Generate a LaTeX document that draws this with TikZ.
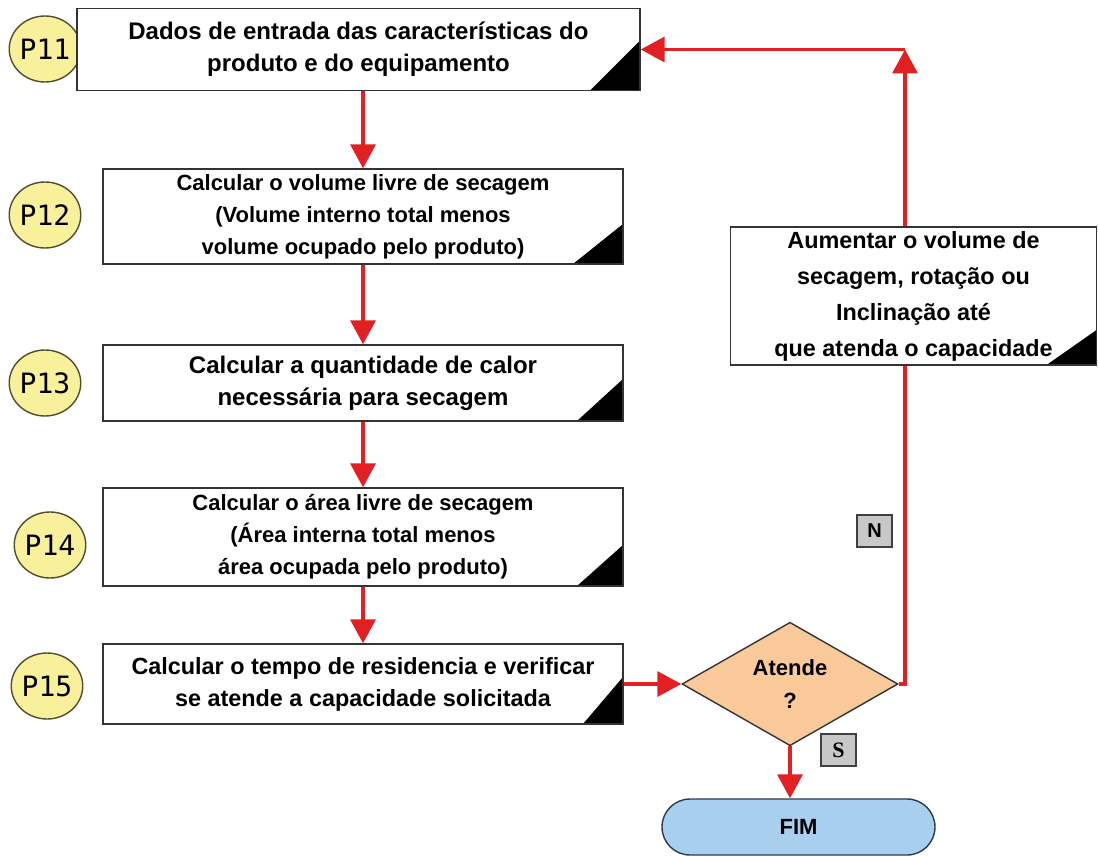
\documentclass[tikz,border=0pt]{standalone}
\usepackage{fontspec}
\setmainfont{Liberation Sans}
\newfontfamily\monofnt{DejaVu Sans Mono}
\newfontfamily\seriffnt{Liberation Serif}
\usetikzlibrary{arrows.meta,shapes.geometric}
\definecolor{flowred}{RGB}{226,32,36}
\definecolor{markyellow}{RGB}{249,240,155}
\definecolor{markedge}{RGB}{80,78,46}
\definecolor{decisionfill}{RGB}{249,201,154}
\definecolor{endfill}{RGB}{169,207,239}
\definecolor{endedge}{RGB}{43,58,79}
\definecolor{tagfill}{RGB}{200,200,200}
\tikzset{
  stepbox/.style={draw=black!80, line width=0.7pt, fill=white, inner sep=0pt, align=center,
    font=\bfseries\fontsize{11}{16}\selectfont},
  tri/.style 2 args={path picture={\fill[black] (path picture bounding box.south east)
    -- ++(0,-#2) -- ++(-#1,#2) -- cycle;}},
  stepmark/.style={ellipse, draw=markedge, fill=markyellow, line width=0.7pt, minimum width=34pt,
    minimum height=33pt, inner sep=0pt, font=\monofnt\fontsize{14}{14}\selectfont},
  tagbox/.style={draw=black!75, fill=tagfill, line width=0.7pt, minimum width=17.5pt,
    minimum height=16pt, inner sep=0pt},
  flow/.style={draw=flowred, line width=1.8pt, -{Triangle[length=12pt,width=12.5pt]}},
  plainflow/.style={draw=flowred, line width=1.8pt}
}
\begin{document}
\begin{tikzpicture}[x=0.5pt, y=-0.5pt]
\useasboundingbox (0,0) rectangle (1099,856);

\node[stepmark] (m11) at (45,49){P11};
\node[stepmark] (m12) at (45,215){P12};
\node[stepmark] (m13) at (45,383){P13};
\node[stepmark] (m14) at (50,545){P14};
\node[stepmark] (m15) at (47,686){P15};

\node[stepbox, tri={50}{50}, minimum width=281.5pt, minimum height=41pt,
  font=\bfseries\fontsize{12}{16}\selectfont] (b11) at (358.5,49.5)
  {Dados de entrada das características do\\produto e do equipamento};
\node[stepbox, tri={50}{40}, minimum width=260pt, minimum height=47.5pt] (b12) at (363,216.5)
  {Calcular o volume livre de secagem\\(Volume interno total menos\\volume ocupado pelo produto)};
\node[stepbox, tri={46}{42}, minimum width=260pt, minimum height=38pt,
  font=\bfseries\fontsize{12}{16}\selectfont] (b13) at (363,383)
  {Calcular a quantidade de calor\\necessária para secagem};
\node[stepbox, tri={46}{41}, minimum width=260pt, minimum height=49pt] (b14) at (363,537)
  {Calcular o área livre de secagem\\(Área interna total menos\\área ocupada pelo produto)};
\node[stepbox, tri={40}{47}, minimum width=260pt, minimum height=40pt,
  font=\bfseries\fontsize{11.7}{16}\selectfont] (b15) at (363,684)
  {Calcular o tempo de residencia e verificar\\se atende a capacidade solicitada};
\node[stepbox, tri={50}{35}, minimum width=183pt, minimum height=69pt,
  font=\bfseries\fontsize{11.7}{18}\selectfont] (aum) at (913.5,296)
  {Aumentar o volume de\\secagem, rotação ou\\Inclinação até\\que atenda o capacidade};

\node[diamond, draw=black!80, fill=decisionfill, line width=0.7pt, minimum width=108pt,
  minimum height=50pt, inner sep=0pt, align=center,
  font=\bfseries\fontsize{11}{16.5}\selectfont] (dia) at (790,684){Atende\\?};
\node[draw=endedge, fill=endfill, line width=0.7pt, rounded corners=14pt, minimum width=136.5pt,
  minimum height=28pt, font=\bfseries\fontsize{11}{13}\selectfont] (fim) at (798.5,827){FIM};

\node[tagbox, font=\bfseries\fontsize{10}{10}\selectfont] (tn) at (874.5,531){N};
\node[tagbox, font=\seriffnt\bfseries\fontsize{11}{11}\selectfont] (ts) at (838.5,750){S};

\coordinate (turn) at (905,49.5);

\draw[flow] (b11.south -| b12.north) -- (b12.north);
\draw[flow] (b12.south) -- (b13.north);
\draw[flow] (b13.south) -- (b14.north);
\draw[flow] (b14.south) -- (b15.north);
\draw[flow] (b15.east) -- (dia.west);
\draw[flow] (dia.south) -- (dia.south |- fim.north);
\draw[plainflow] (dia.east) -| (turn |- aum.south);
\draw[flow] (turn |- aum.north) -- (turn);
\draw[flow] (turn) -- (b11.east);
\end{tikzpicture}
\end{document}
